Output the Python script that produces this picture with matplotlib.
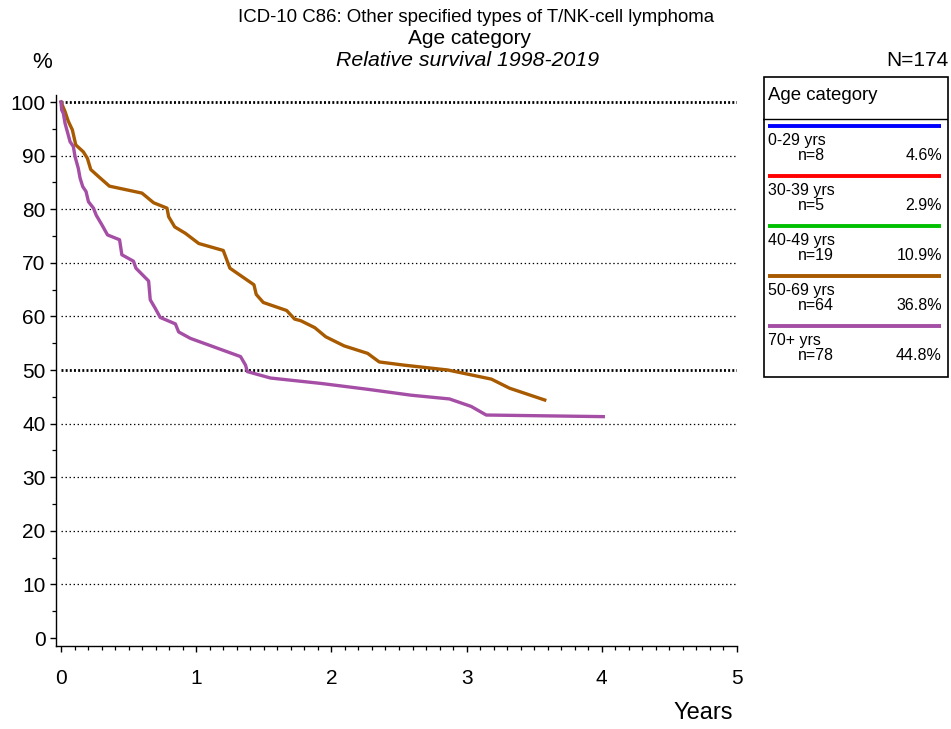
import matplotlib
matplotlib.use("Agg")
import matplotlib.pyplot as plt
from matplotlib.patches import Rectangle

plt.rcParams['font.family'] = ['Liberation Sans', 'DejaVu Sans']
plt.rcParams['lines.scale_dashes'] = False

# survival curves (years, relative survival %)
years_5069 = [0, 0.030, 0.054, 0.084, 0.109, 0.165, 0.195, 0.220, 0.277, 0.358, 0.599,
              0.685, 0.784, 0.796, 0.841, 0.920, 1.019, 1.200, 1.249, 1.427, 1.444, 1.496,
              1.669, 1.728, 1.773, 1.877, 1.958, 2.094, 2.268, 2.354, 2.539, 2.861, 3.183,
              3.318, 3.578]
surv_5069 = [100, 98.2, 96.4, 94.8, 92.0, 90.7, 89.5, 87.4, 86.1, 84.3, 83.0,
             81.2, 80.2, 78.6, 76.7, 75.5, 73.6, 72.3, 69.0, 65.9, 64.1, 62.6,
             61.1, 59.5, 59.2, 57.9, 56.2, 54.5, 53.1, 51.5, 50.9, 50.0, 48.3,
             46.6, 44.4]

years_70 = [0, 0.005, 0.017, 0.030, 0.054, 0.067, 0.091, 0.104, 0.128, 0.141, 0.161,
            0.185, 0.203, 0.240, 0.260, 0.302, 0.344, 0.433, 0.450, 0.536, 0.554, 0.648,
            0.660, 0.697, 0.734, 0.846, 0.870, 0.957, 1.328, 1.365, 1.378, 1.550, 1.921,
            2.268, 2.589, 2.873, 3.034, 3.145, 4.011]
surv_70 = [100, 98.5, 97.9, 96.0, 93.8, 92.6, 91.7, 89.8, 87.6, 85.8, 84.2,
           83.3, 81.4, 80.2, 78.9, 77.1, 75.2, 74.3, 71.5, 70.3, 69.0, 66.6,
           63.1, 61.5, 59.8, 58.6, 57.1, 55.9, 52.5, 50.9, 49.7, 48.5, 47.5,
           46.4, 45.3, 44.6, 43.2, 41.6, 41.3]

# legend table
groups = ['0-29 yrs', '30-39 yrs', '40-49 yrs', '50-69 yrs', '70+ yrs']
counts = [8, 5, 19, 64, 78]
shares = ['4.6%', '2.9%', '10.9%', '36.8%', '44.8%']
colors = ['#0000ff', '#ff0000', '#00c000', '#a85a00', '#a54ea5']

W, H = 951, 729
fig = plt.figure(figsize=(W / 100, H / 100), dpi=100)

# main axes placed in pixels
l, r, t, b = 56, 737, 95, 646
ax = fig.add_axes([l / W, 1 - b / H, (r - l) / W, (b - t) / H])
ax.set_xlim(-5 / 134.8, 5.0)
ax.set_ylim(-8 / 5.36, 100 + 7 / 5.36)

for v in range(10, 101, 10):
    if v in (50, 100):
        ax.plot([0, 5], [v, v], color='black', lw=2.0, ls=(0, (1.4, 1.6)), zorder=1)
    else:
        ax.plot([0, 5], [v, v], color='black', lw=0.9, ls=(0, (1.0, 1.9)), zorder=1)

ax.plot(years_5069, surv_5069, color=colors[3], lw=2.4, zorder=3)
ax.plot(years_70, surv_70, color=colors[4], lw=2.4, zorder=3)

for s in ['top', 'right']:
    ax.spines[s].set_visible(False)
for s in ['left', 'bottom']:
    ax.spines[s].set_linewidth(1.0)

ax.set_xticks(range(6))
ax.set_xticks([i / 10 for i in range(51)], minor=True)
ax.set_yticks(range(0, 101, 10))
ax.set_yticks(range(0, 101, 5), minor=True)
ax.tick_params(axis='both', which='major', length=4.5, width=1.0, labelsize=15)
ax.tick_params(axis='both', which='minor', length=2.8, width=0.9)
ax.tick_params(axis='x', which='major', pad=12)
ax.tick_params(axis='y', which='major', pad=3)

# titles and labels
fig.text(476 / W, 1 - 18 / H, 'ICD-10 C86: Other specified types of T/NK-cell lymphoma',
         ha='center', va='center', fontsize=13.4)
fig.text(470 / W, 1 - 38 / H, 'Age category', ha='center', va='center', fontsize=15)
fig.text(468 / W, 1 - 60 / H, 'Relative survival 1998-2019', ha='center', va='center',
         fontsize=15.3, style='italic')
fig.text(42 / W, 1 - 62 / H, '%', ha='center', va='center', fontsize=16)
fig.text(948 / W, 1 - 60 / H, 'N=174', ha='right', va='center', fontsize=15)
fig.text(733 / W, 1 - 713 / H, 'Years', ha='right', va='center', fontsize=17)

# legend box
bl, bt, bw, bh = 763, 76, 185, 301
lg = fig.add_axes([bl / W, 1 - (bt + bh) / H, bw / W, bh / H])
lg.set_xlim(0, bw)
lg.set_ylim(bh, 0)
lg.axis('off')
lg.add_patch(Rectangle((0.5, 0.5), bw - 1, bh - 1, fill=False, lw=1.2, ec='black', clip_on=False))
lg.plot([0, bw], [43, 43], color='black', lw=1.0)
lg.text(5, 20, 'Age category', ha='left', va='center', fontsize=13.4)
for i, g in enumerate(groups):
    y0 = 50 + 50 * i
    lg.plot([5, 178], [y0, y0], color=colors[i], lw=2.8, solid_capstyle='butt')
    lg.text(5, y0 + 15, g, ha='left', va='center', fontsize=11.5)
    lg.text(35, y0 + 30, f'n={counts[i]}', ha='left', va='center', fontsize=11.5)
    lg.text(179, y0 + 30, shares[i], ha='right', va='center', fontsize=11.5)

fig.savefig('out.png', dpi=100)
